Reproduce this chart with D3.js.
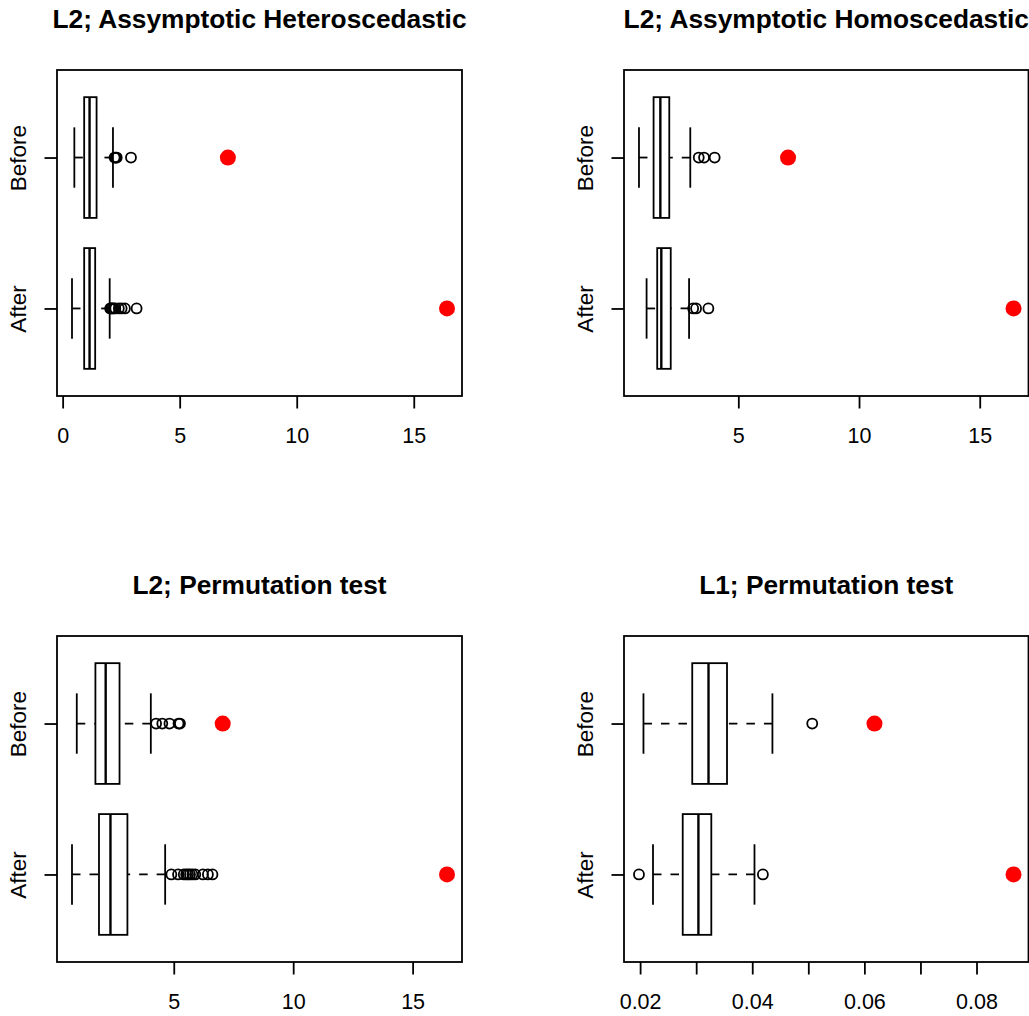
<!DOCTYPE html>
<html><head><meta charset="utf-8">
<script src="https://cdn.jsdelivr.net/npm/d3@7"></script>
<style>body{margin:0;background:#fff}svg{display:block}</style>
</head><body>
<script>
// ---- data ----
const panelTitles = ["L2; Assymptotic Heteroscedastic","L2; Assymptotic Homoscedastic","L2; Permutation test","L1; Permutation test"];
const groups = ["After","Before"];
// five-number stats: [lower whisker, Q1, median, Q3, upper whisker]
const hetAfter  = [0.40, 0.92, 1.15, 1.39, 2.01];
const hetBefore = [0.50, 0.92, 1.15, 1.45, 2.15];
const hetAfterOut  = [2.03, 2.08, 2.12, 2.18, 2.25, 2.40, 2.52, 2.66, 3.16];
const hetBeforeOut = [2.22, 2.27, 2.31, 2.92];
const homAfter  = [1.20, 1.64, 1.81, 2.20, 2.96];
const homBefore = [0.885, 1.49, 1.77, 2.14, 3.01];
const homAfterOut  = [3.13, 3.25, 3.76];
const homBeforeOut = [3.36, 3.58, 4.02];
const permL2After  = [0.74, 1.87, 2.35, 3.06, 4.64];
const permL2Before = [0.94, 1.72, 2.15, 2.73, 4.04];
const permL2AfterOut  = [4.90, 5.18, 5.42, 5.52, 5.60, 5.68, 5.78, 5.90, 6.22, 6.43, 6.62];
const permL2BeforeOut = [4.26, 4.52, 4.82, 5.20, 5.26];
const permL1After  = [0.0223, 0.0276, 0.0304, 0.0327, 0.0404];
const permL1Before = [0.0206, 0.0293, 0.0322, 0.0355, 0.0436];
const permL1AfterOut  = [0.0198, 0.0419];
const permL1BeforeOut = [0.0507];
// observed statistics (red points): [After, Before]
const obsHet    = [16.42, 7.06];
const obsHom    = [16.40, 7.06];
const obsPermL2 = [16.44, 7.05];
const obsPermL1 = [0.0866, 0.0618];
// x tick values
const ticksHet    = [0, 5, 10, 15];
const ticksHom    = [5, 10, 15];
const ticksPermL2 = [5, 10, 15];
const ticksPermL1 = [0.02, 0.03, 0.04, 0.05, 0.06, 0.07, 0.08];
const labelsPermL1 = ["0.02", "", "0.04", "", "0.06", "", "0.08"];

const panels = [
  {title: panelTitles[0], stats: [hetAfter, hetBefore], outs: [hetAfterOut, hetBeforeOut], obs: obsHet, ticks: ticksHet, labels: ticksHet.map(String)},
  {title: panelTitles[1], stats: [homAfter, homBefore], outs: [homAfterOut, homBeforeOut], obs: obsHom, ticks: ticksHom, labels: ticksHom.map(String)},
  {title: panelTitles[2], stats: [permL2After, permL2Before], outs: [permL2AfterOut, permL2BeforeOut], obs: obsPermL2, ticks: ticksPermL2, labels: ticksPermL2.map(String)},
  {title: panelTitles[3], stats: [permL1After, permL1Before], outs: [permL1AfterOut, permL1BeforeOut], obs: obsPermL1, ticks: ticksPermL1, labels: labelsPermL1}
];

// ---- layout ----
const W = 1029, H = 1016;
const boxes = [
  {x0: 57, x1: 462, y0: 70, y1: 396},
  {x0: 624, x1: 1028.5, y0: 70, y1: 396},
  {x0: 57, x1: 462, y0: 636, y1: 962},
  {x0: 624, x1: 1028.5, y0: 636, y1: 962}
];
const font = "'Liberation Sans', Arial, Helvetica, sans-serif";
const LW = 1.8;

const svg = d3.select("body").append("svg").attr("width", W).attr("height", H)
  .style("font-family", font);

panels.forEach((p, i) => {
  const b = boxes[i];
  const all = [].concat(...p.stats, ...p.outs, p.obs);
  const lo = d3.min(all), hi = d3.max(all), pad = (hi - lo) * 0.04;
  const x = d3.scaleLinear().domain([lo - pad, hi + pad]).range([b.x0, b.x1]);
  const y = d3.scaleLinear().domain([0.42, 2.58]).range([b.y1, b.y0]);
  const g = svg.append("g");

  // title
  g.append("text").attr("x", (b.x0 + b.x1) / 2).attr("y", b.y0 - 42)
    .attr("text-anchor", "middle").attr("font-weight", "bold").attr("font-size", 26.3)
    .text(p.title);

  // x axis
  const xa = d3.axisBottom(x).tickValues(p.ticks).tickSize(12.5).tickPadding(19)
    .tickFormat((d, k) => p.labels[k]);
  const ax = g.append("g").attr("transform", `translate(0,${b.y1})`).call(xa);
  ax.select(".domain").remove();
  ax.selectAll("line").attr("stroke", "#000").attr("stroke-width", LW);
  ax.selectAll("text").attr("font-size", 21.5).attr("font-family", font).attr("fill", "#000");

  // y axis
  const ya = d3.axisLeft(y).tickValues([1, 2]).tickSize(12.5).tickPadding(0)
    .tickFormat((d) => groups[d - 1]);
  const ay = g.append("g").attr("transform", `translate(${b.x0},0)`).call(ya);
  ay.select(".domain").remove();
  ay.selectAll("line").attr("stroke", "#000").attr("stroke-width", LW);
  ay.selectAll("text").attr("font-size", 22.5).attr("font-family", font).attr("fill", "#000")
    .attr("text-anchor", "middle").attr("dy", null).attr("x", null)
    .attr("transform", "translate(-31,0) rotate(-90)");

  // boxplots
  p.stats.forEach((s, k) => {
    const yc = y(k + 1), hw = (y(0) - y(0.4)), sw = (y(0) - y(0.2));
    const bg = g.append("g").attr("stroke", "#000").attr("stroke-width", LW).attr("fill", "none");
    // whiskers (drawn from whisker end toward box)
    bg.append("line").attr("x1", x(s[0])).attr("x2", x(s[1])).attr("y1", yc).attr("y2", yc)
      .attr("stroke-dasharray", "8.5,9");
    bg.append("line").attr("x1", x(s[4])).attr("x2", x(s[3])).attr("y1", yc).attr("y2", yc)
      .attr("stroke-dasharray", "8.5,9");
    // staples
    bg.append("line").attr("x1", x(s[0])).attr("x2", x(s[0])).attr("y1", yc - sw).attr("y2", yc + sw);
    bg.append("line").attr("x1", x(s[4])).attr("x2", x(s[4])).attr("y1", yc - sw).attr("y2", yc + sw);
    // box
    bg.append("rect").attr("x", x(s[1])).attr("y", yc - hw).attr("width", x(s[3]) - x(s[1]))
      .attr("height", 2 * hw).attr("fill", "#fff");
    // median
    bg.append("line").attr("x1", x(s[2])).attr("x2", x(s[2])).attr("y1", yc - hw).attr("y2", yc + hw)
      .attr("stroke-width", 2.4);
    // outliers
    bg.selectAll("circle.out").data(p.outs[k]).enter().append("circle").attr("class", "out")
      .attr("cx", d => x(d)).attr("cy", yc).attr("r", 5);
    // observed value
    g.append("circle").attr("cx", x(p.obs[k])).attr("cy", yc).attr("r", 8).attr("fill", "#ff0000");
  });

  // frame
  g.append("rect").attr("x", b.x0).attr("y", b.y0).attr("width", b.x1 - b.x0).attr("height", b.y1 - b.y0)
    .attr("fill", "none").attr("stroke", "#000").attr("stroke-width", LW);
});
</script>
</body></html>
